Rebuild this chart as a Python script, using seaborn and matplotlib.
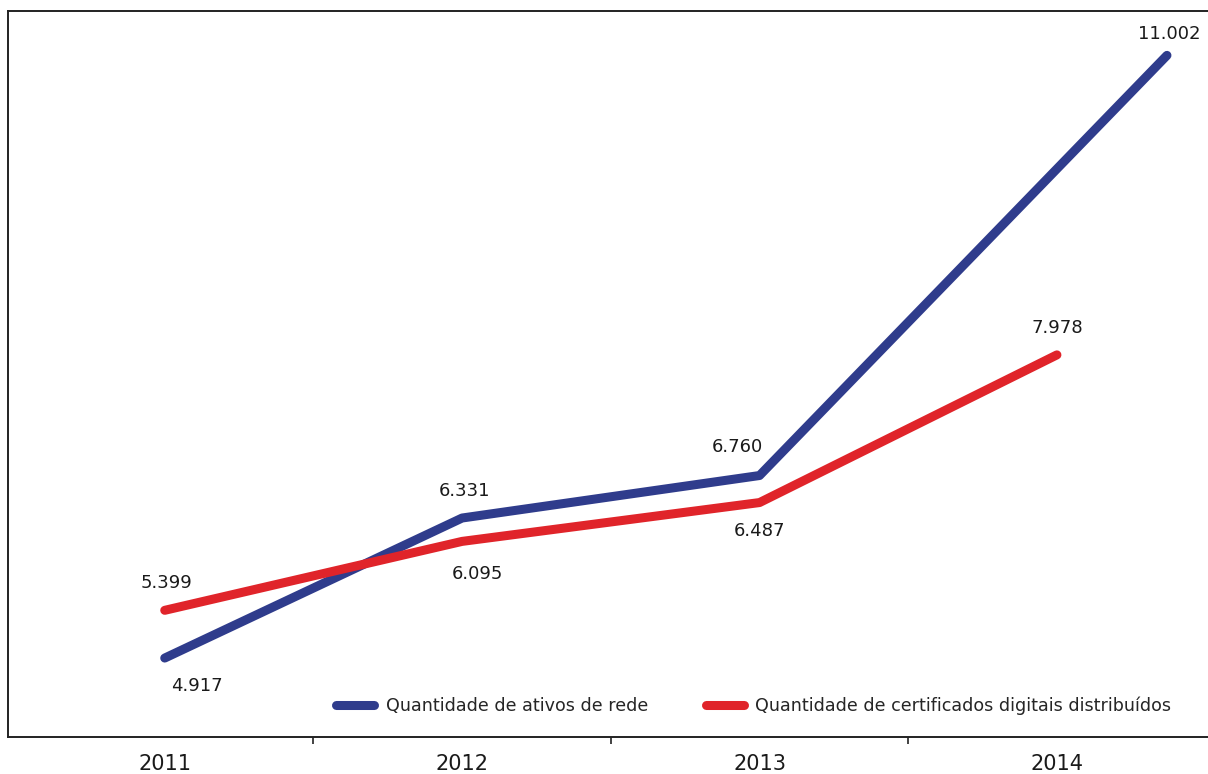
import matplotlib
matplotlib.use("Agg")
import matplotlib.pyplot as plt
import seaborn as sns
from matplotlib.ticker import FixedLocator, NullFormatter, FixedFormatter

# data
anos = ["2011", "2012", "2013", "2014"]
ativos_rede = [4.917, 6.331, 6.760, 11.002]
certificados = [5.399, 6.095, 6.487, 7.978]
# category positions (the network-assets line ends a bit to the right in the original)
pos_ativos = [0, 1, 2, 3.37]
pos_cert = [0, 1, 2, 3]

lbl_ativos = "Quantidade de ativos de rede"
lbl_cert = "Quantidade de certificados digitais distribuídos"

blue = "#2f3c8c"
red = "#e0242a"

sns.set_style("white")
plt.rcParams['font.family'] = ['DejaVu Sans']

fig = plt.figure(figsize=(12.08, 7.74), dpi=100)
ax = fig.add_axes((8 / 1208, 1 - 737 / 774, 1 - 8 / 1208 + 0.01, (737 - 11) / 774))

sns.lineplot(x=pos_ativos, y=ativos_rede, ax=ax, color=blue, linewidth=6.5,
             label=lbl_ativos, solid_capstyle="round", sort=False)
sns.lineplot(x=pos_cert, y=certificados, ax=ax, color=red, linewidth=6.5,
             label=lbl_cert, solid_capstyle="round", sort=False)

ax.set_xlim(-0.527, 3.508 + 0.01 * 1208 / 297.5)
ax.set_ylim(4.12, 11.45)

# value labels (offsets in pixels)
offs_ativos = [(32, -28), (2, 27), (-22, 29), (2, 21)]
offs_cert = [(2, 27), (15, -33), (0, -28), (0, 27)]
for x, y, o in zip(pos_ativos, ativos_rede, offs_ativos):
    ax.annotate(f"{y:.3f}", (x, y), xytext=o, textcoords="offset pixels",
                ha="center", va="center", fontsize=13, color="#1a1a1a")
for x, y, o in zip(pos_cert, certificados, offs_cert):
    ax.annotate(f"{y:.3f}", (x, y), xytext=o, textcoords="offset pixels",
                ha="center", va="center", fontsize=13, color="#1a1a1a")

# ticks between categories, labels at categories
ax.xaxis.set_major_locator(FixedLocator([0.5, 1.5, 2.5]))
ax.xaxis.set_major_formatter(NullFormatter())
ax.xaxis.set_minor_locator(FixedLocator(range(len(anos))))
ax.xaxis.set_minor_formatter(FixedFormatter(anos))
ax.tick_params(axis="x", which="major", direction="out", length=5, width=1.2,
               color="#222222", bottom=True)
ax.tick_params(axis="x", which="minor", length=0, pad=12, labelsize=15,
               labelcolor="#1a1a1a")
ax.set_yticks([])
ax.set_xlabel("")
ax.set_ylabel("")

for s in ["left", "top", "bottom"]:
    ax.spines[s].set_color("#222222")
    ax.spines[s].set_linewidth(1.4)
ax.spines["right"].set_visible(False)

leg = ax.legend(loc="center left", bbox_to_anchor=(314 / 1220, (737 - 706) / 726),
                ncol=2, frameon=False, fontsize=12.6, handlelength=2.2,
                columnspacing=3.3, handletextpad=0.65)
for ln in leg.get_lines():
    ln.set_linewidth(6.5)
    ln.set_solid_capstyle("round")

fig.savefig("out.png", dpi=100, facecolor="white")
